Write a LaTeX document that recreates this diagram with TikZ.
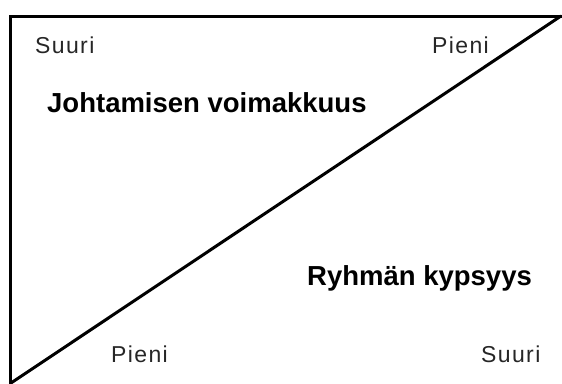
\documentclass[tikz,border=0pt]{standalone}
\usepackage{fontspec}
\setmainfont{Liberation Sans}
\newfontfamily\lblfont[LetterSpace=6]{Liberation Sans}
\begin{document}
\begin{tikzpicture}[x=1pt,y=-1pt,
  lbl/.style={anchor=base west,inner sep=0pt,font=\lblfont\fontsize{23}{27}\selectfont,text=black!85},
  ttl/.style={anchor=base west,inner sep=0pt,font=\fontsize{27.5}{32}\selectfont\bfseries},
  edge/.style={line width=3pt,black}]
\useasboundingbox (0,0) rectangle (562,383);
\coordinate (bl) at (10.5,386);
\coordinate (tl) at (10.5,16);
\coordinate (tr) at (563,16);
\coordinate (dtr) at (561,16);
\coordinate (dbl) at (11,383);
\draw[edge,line join=miter] (bl) -- (tl) -- (tr);
\draw[edge,line cap=round] (dtr) -- (dbl);
\node[lbl] (suuriTop) at (35,53) {Suuri};
\node[lbl] (pieniTop) at (432,53) {Pieni};
\node[ttl] (johto) at (47,112) {Johtamisen voimakkuus};
\node[ttl] (ryhma) at (307,285) {Ryhmän kypsyys};
\node[lbl] (pieniBot) at (111,362) {Pieni};
\node[lbl] (suuriBot) at (481,362) {Suuri};
\end{tikzpicture}
\end{document}
